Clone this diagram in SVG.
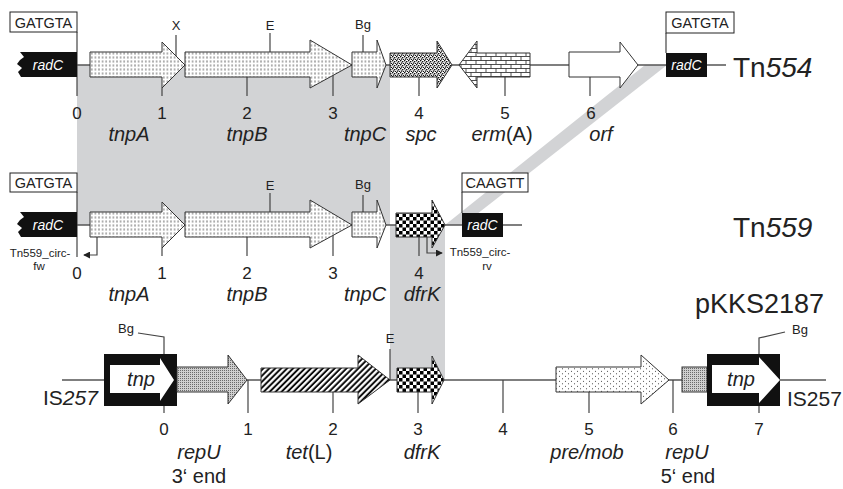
<svg xmlns="http://www.w3.org/2000/svg" width="843" height="489" viewBox="0 0 843 489">
<defs>
<pattern id="pTnp" width="3.6" height="4" patternUnits="userSpaceOnUse"><rect width="3.6" height="4" fill="#fff"/><line x1="1.8" y1="0.4" x2="1.8" y2="2.6" stroke="#222" stroke-width="0.7"/></pattern>
<pattern id="pSpc" width="4" height="4" patternUnits="userSpaceOnUse"><rect width="4" height="4" fill="#fff"/><rect x="0" y="0" width="1.4" height="1.4" fill="#111"/><rect x="2" y="1" width="1.4" height="1.4" fill="#111"/><rect x="0.8" y="2.4" width="1.4" height="1.4" fill="#111"/><rect x="2.9" y="3" width="1.1" height="1" fill="#111"/></pattern>
<pattern id="pBrick" width="10" height="8" patternUnits="userSpaceOnUse"><rect width="10" height="8" fill="#fff"/><path d="M0,0.5H10M0,4.5H10M1,0.5V4.5M6,4.5V8" stroke="#222" stroke-width="0.8" fill="none"/></pattern>
<pattern id="pCheck" width="7" height="7" patternUnits="userSpaceOnUse"><rect width="7" height="7" fill="#fff"/><rect width="3.5" height="3.5" fill="#000"/><rect x="3.5" y="3.5" width="3.5" height="3.5" fill="#000"/></pattern>
<pattern id="pRep" width="2" height="2" patternUnits="userSpaceOnUse"><rect width="2" height="2" fill="#cfcfcf"/><rect width="1" height="1" fill="#6a6a6a"/></pattern>
<pattern id="pHatch" width="4.2" height="4.2" patternUnits="userSpaceOnUse" patternTransform="rotate(45)"><rect width="4.2" height="4.2" fill="#fff"/><line x1="1.5" y1="0" x2="1.5" y2="4.2" stroke="#000" stroke-width="1.9"/></pattern>
<pattern id="pDots" width="6" height="5" patternUnits="userSpaceOnUse"><rect width="6" height="5" fill="#fff"/><circle cx="1.5" cy="1.2" r="0.55" fill="#333"/><circle cx="4.5" cy="3.7" r="0.55" fill="#333"/></pattern>
<marker id="arr" viewBox="0 0 8 8" refX="7" refY="4" markerWidth="7" markerHeight="7" markerUnits="userSpaceOnUse" orient="auto"><path d="M0,0L8,4L0,8Z" fill="#222"/></marker>
</defs>
<style>
text{font-family:"Liberation Sans",Arial,sans-serif;fill:#222}
.gene{stroke:#333;stroke-width:1}
.line{stroke:#555;stroke-width:1.3;fill:none}
.tick{stroke:#444;stroke-width:1.2;fill:none}
.num{font-size:17px;text-anchor:middle}
.name{font-size:20px;font-style:italic;text-anchor:middle}
.site{font-size:13px;text-anchor:middle}
.seq{font-size:14.5px;text-anchor:middle}
.seqbox{fill:#fff;stroke:#222;stroke-width:1}
.radc{fill:#111}
.radct{font-size:14px;font-style:italic;fill:#fff;text-anchor:middle}
.big{font-size:28px}
.primer{font-size:11.5px;text-anchor:middle}
.tnp{font-size:20px;font-style:italic;text-anchor:middle}
</style>

<g id="shading">
<rect x="77" y="65" width="313" height="160" fill="#d2d3d5"/>
<rect x="390" y="225" width="55" height="155" fill="#d2d3d5"/>
<polygon points="645,65 667,65 463,225 445,225" fill="#d2d3d5"/>
</g>

<g id="connectors">
<line class="line" x1="77" y1="65" x2="726" y2="65"/>
<line class="line" x1="77" y1="225" x2="522" y2="225"/>
<line class="line" x1="62" y1="380" x2="826" y2="380"/>
<polyline class="tick" points="97,237 97,255 84,255" marker-end="url(#arr)"/>
<polyline class="tick" points="427,237 427,253 442,253" marker-end="url(#arr)"/>
<polyline class="tick" points="138,333 164,337 164,354"/>
<polyline class="tick" points="759,354 759,338 785,332"/>
</g>

<g id="ticks">
<line class="tick" x1="77" y1="32" x2="77" y2="96"/>
<line class="tick" x1="176" y1="35" x2="176" y2="56"/>
<line class="tick" x1="270" y1="33" x2="270" y2="52"/>
<line class="tick" x1="363" y1="35" x2="363" y2="52"/>
<line class="tick" x1="162" y1="88" x2="162" y2="96"/>
<line class="tick" x1="247" y1="77" x2="247" y2="96"/>
<line class="tick" x1="333" y1="75" x2="333" y2="96"/>
<line class="tick" x1="419" y1="77" x2="419" y2="96"/>
<line class="tick" x1="505" y1="77" x2="505" y2="96"/>
<line class="tick" x1="590" y1="77" x2="590" y2="96"/>
<line class="tick" x1="666" y1="33" x2="666" y2="53"/>

<line class="tick" x1="77" y1="192" x2="77" y2="257"/>
<line class="tick" x1="270" y1="193" x2="270" y2="212"/>
<line class="tick" x1="363" y1="195" x2="363" y2="212"/>
<line class="tick" x1="162" y1="248" x2="162" y2="256"/>
<line class="tick" x1="247" y1="237" x2="247" y2="256"/>
<line class="tick" x1="333" y1="235" x2="333" y2="256"/>
<line class="tick" x1="419" y1="237" x2="419" y2="256"/>
<line class="tick" x1="462" y1="192" x2="462" y2="213"/>

<line class="tick" x1="164" y1="406" x2="164" y2="413"/>
<line class="tick" x1="248" y1="380" x2="248" y2="413"/>
<line class="tick" x1="333" y1="392" x2="333" y2="413"/>
<line class="tick" x1="390" y1="349" x2="390" y2="380"/>
<line class="tick" x1="418" y1="392" x2="418" y2="413"/>
<line class="tick" x1="503" y1="380" x2="503" y2="413"/>
<line class="tick" x1="589" y1="392" x2="589" y2="413"/>
<line class="tick" x1="673" y1="380" x2="673" y2="413"/>
<line class="tick" x1="759" y1="406" x2="759" y2="413"/>
</g>

<g id="tn554">
<g id="tn554-gatgta-l"><rect class="seqbox" x="10" y="12" width="67" height="20"/><text class="seq" x="43.5" y="27.5">GATGTA</text></g>
<g id="tn554-radC-l"><path class="radc" d="M77,52H20L24,57L20,60L17,64L22,68L18,72L21,77H77Z"/><text class="radct" x="48" y="70">radC</text></g>
<g id="tn554-tnpA"><path class="gene" fill="url(#pTnp)" d="M90,52H162V42L185,65L162,88V77H90Z"/></g>
<g id="tn554-tnpB"><path class="gene" fill="url(#pTnp)" d="M185,52H310V40L352,65L310,88V77H185Z"/></g>
<g id="tn554-tnpC"><path class="gene" fill="url(#pTnp)" d="M352,52H377V40L386,65L377,88V77H352Z"/></g>
<g id="tn554-spc"><path class="gene" fill="url(#pSpc)" d="M390,53H437V41L452,65L437,88V77H390Z"/></g>
<g id="tn554-ermA"><path class="gene" fill="url(#pBrick)" d="M459,65L477,41V53H530V77H477V88Z"/></g>
<g id="tn554-orf"><path class="gene" fill="#fff" d="M569,52H620V42L638,65L620,88V77H569Z"/></g>
<g id="tn554-gatgta-r"><rect class="seqbox" x="666" y="12" width="68" height="21"/><text class="seq" x="700" y="28">GATGTA</text></g>
<g id="tn554-radC-r"><rect class="radc" x="666" y="53" width="41" height="24"/><text class="radct" x="686.5" y="70">radC</text></g>
<text class="site" x="176" y="30">X</text>
<text class="site" x="270" y="30">E</text>
<text class="site" x="363" y="29">Bg</text>
<text class="num" x="77" y="119">0</text>
<text class="num" x="162" y="119">1</text>
<text class="num" x="247" y="119">2</text>
<text class="num" x="333" y="119">3</text>
<text class="num" x="419" y="119">4</text>
<text class="num" x="505" y="119">5</text>
<text class="num" x="591" y="119">6</text>
<text class="name" x="129" y="141">tnpA</text>
<text class="name" x="247" y="141">tnpB</text>
<text class="name" x="365" y="141">tnpC</text>
<text class="name" x="421" y="141">spc</text>
<text class="name" x="502" y="141">erm<tspan font-style="normal">(A)</tspan></text>
<text class="name" x="601" y="141">orf</text>
<text class="big" x="733" y="77">Tn<tspan font-style="italic">554</tspan></text>
</g>

<g id="tn559">
<g id="tn559-gatgta"><rect class="seqbox" x="10" y="173" width="67" height="19"/><text class="seq" x="43.5" y="188">GATGTA</text></g>
<g id="tn559-radC-l"><path class="radc" d="M77,212H20L24,217L20,220L17,224L22,228L18,232L21,237H77Z"/><text class="radct" x="48" y="230">radC</text></g>
<g id="tn559-tnpA"><path class="gene" fill="url(#pTnp)" d="M90,212H162V202L185,225L162,248V237H90Z"/></g>
<g id="tn559-tnpB"><path class="gene" fill="url(#pTnp)" d="M185,212H310V200L352,225L310,248V237H185Z"/></g>
<g id="tn559-tnpC"><path class="gene" fill="url(#pTnp)" d="M352,212H377V200L386,225L377,248V237H352Z"/></g>
<g id="tn559-dfrK"><path class="gene" fill="url(#pCheck)" d="M396,213H432V200L445,225L432,248V237H396Z"/></g>
<g id="tn559-caagtt"><rect class="seqbox" x="462" y="173" width="66" height="19"/><text class="seq" x="495" y="188">CAAGTT</text></g>
<g id="tn559-radC-r"><rect class="radc" x="462" y="213" width="41" height="24"/><text class="radct" x="482.5" y="230">radC</text></g>
<text class="site" x="270" y="190">E</text>
<text class="site" x="363" y="189">Bg</text>
<text class="primer" x="40" y="257">Tn559_circ-</text>
<text class="primer" x="39" y="270">fw</text>
<text class="primer" x="480" y="256">Tn559_circ-</text>
<text class="primer" x="487" y="270">rv</text>
<text class="num" x="77" y="279">0</text>
<text class="num" x="162" y="279">1</text>
<text class="num" x="247" y="279">2</text>
<text class="num" x="333" y="279">3</text>
<text class="num" x="419" y="279">4</text>
<text class="name" x="129" y="301">tnpA</text>
<text class="name" x="247" y="301">tnpB</text>
<text class="name" x="365" y="301">tnpC</text>
<text class="name" x="422" y="301">dfrK</text>
<text class="big" x="733" y="237">Tn<tspan font-style="italic">559</tspan></text>
</g>

<g id="pkks2187">
<g id="is257-l"><rect x="104" y="354" width="73" height="52" fill="#111"/><path d="M110,365H160V358L174,380L160,401V393H110Z" fill="#fff"/><text class="tnp" x="141" y="386">tnp</text></g>
<g id="repU-3"><path class="gene" fill="url(#pRep)" d="M177,367H228V355L247,380L228,404V392H177Z"/></g>
<g id="tetL"><path class="gene" fill="url(#pHatch)" d="M261,368H358V355L390,380L358,404V392H261Z"/></g>
<g id="dfrK-p"><path class="gene" fill="url(#pCheck)" d="M397,368H432V356L444,380L432,404V392H397Z"/></g>
<g id="premob"><path class="gene" fill="url(#pDots)" d="M556,367H641V355L669,380L641,404V392H556Z"/></g>
<g id="repU-5"><rect class="gene" fill="url(#pRep)" x="682" y="367" width="25" height="25"/></g>
<g id="is257-r"><rect x="707" y="354" width="73" height="52" fill="#111"/><path d="M712,365H759V357L780,380L759,403V393H712Z" fill="#fff"/><text class="tnp" x="741" y="386">tnp</text></g>
<text class="site" x="126" y="333">Bg</text>
<text class="site" x="800" y="334">Bg</text>
<text class="site" x="390" y="343">E</text>
<text x="43" y="405" font-size="21">IS<tspan font-style="italic">257</tspan></text>
<text x="787" y="406" font-size="21">IS257</text>
<text class="num" x="164" y="435">0</text>
<text class="num" x="248" y="435">1</text>
<text class="num" x="333" y="435">2</text>
<text class="num" x="418" y="435">3</text>
<text class="num" x="503" y="435">4</text>
<text class="num" x="589" y="435">5</text>
<text class="num" x="673" y="435">6</text>
<text class="num" x="759" y="435">7</text>
<text class="name" x="199" y="459">repU</text>
<text x="199" y="483" font-size="20" text-anchor="middle">3‘ end</text>
<text class="name" x="309" y="459">tet<tspan font-style="normal">(L)</tspan></text>
<text class="name" x="422" y="459">dfrK</text>
<text class="name" x="587" y="459">pre/mob</text>
<text class="name" x="687" y="459">repU</text>
<text x="688" y="483" font-size="20" text-anchor="middle">5‘ end</text>
<text x="695" y="313" font-size="27">pKKS2187</text>
</g>
</svg>
